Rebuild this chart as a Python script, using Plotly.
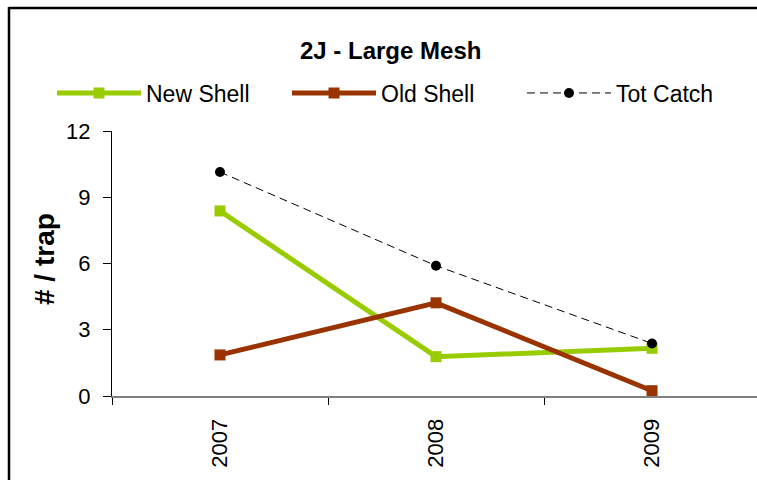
import plotly.graph_objects as go

years = ["2007", "2008", "2009"]
new_shell = [8.38, 1.78, 2.16]
old_shell = [1.86, 4.22, 0.24]
tot_catch = [10.14, 5.9, 2.38]
y_ticks = [0, 3, 6, 9, 12]

FONT = "Arial, Liberation Sans, sans-serif"
W, H = 757, 480
L, R, T, B = 112, 0, 131, 84

fig = go.Figure()
fig.add_trace(go.Scatter(x=years, y=new_shell, name="New Shell", mode="lines+markers",
                         line=dict(color="#99CC00", width=5),
                         marker=dict(symbol="square", size=11, color="#99CC00")))
fig.add_trace(go.Scatter(x=years, y=old_shell, name="Old Shell", mode="lines+markers",
                         line=dict(color="#993300", width=5),
                         marker=dict(symbol="square", size=11, color="#993300")))
fig.add_trace(go.Scatter(x=years, y=tot_catch, name="Tot Catch", mode="lines+markers",
                         line=dict(color="black", width=1, dash="8px,5px"),
                         marker=dict(symbol="circle", size=10, color="black")))

pw, ph = W - L - R, H - T - B
def px_x(p):
    return (p - L) / pw
def px_y(p):
    return (H - B - p) / ph

fig.update_layout(
    width=W, height=H,
    margin=dict(l=L, r=R, t=T, b=B),
    paper_bgcolor="white", plot_bgcolor="white",
    font=dict(family=FONT, size=22, color="black"),
    showlegend=True,
    legend=dict(orientation="h", x=px_x(52), y=px_y(93), xanchor="left", yanchor="middle",
                font=dict(size=23), itemwidth=84, entrywidth=136, entrywidthmode="pixels",
                bgcolor="rgba(0,0,0,0)", tracegroupgap=0),
    xaxis=dict(type="category", range=[-0.5, 2.486], tickson="boundaries",
               showline=True, linecolor="#808080", linewidth=2,
               ticks="outside", ticklen=7, tickcolor="black", tickwidth=1,
               tickangle=-90, ticklabelstandoff=12, showgrid=False, zeroline=False),
    yaxis=dict(range=[0, 12], tickvals=y_ticks, showline=True, linecolor="black",
               linewidth=1, ticks="outside", ticklen=8, tickcolor="black",
               showgrid=False, zeroline=False, ticklabelstandoff=8),
    annotations=[
        dict(text="<b>2J - Large Mesh</b>", xref="paper", yref="paper",
             x=px_x(390), y=px_y(50), xanchor="center", yanchor="middle",
             showarrow=False, font=dict(size=24)),
        dict(text="<b># / trap</b>", xref="paper", yref="paper", textangle=-90,
             x=px_x(44), y=px_y(259), xanchor="center", yanchor="middle",
             showarrow=False, font=dict(size=28)),
    ],
    shapes=[
        # white strip on the right edge, then the chart-area border
        dict(type="rect", xref="paper", yref="paper", x0=px_x(738), x1=px_x(W + 2),
             y0=px_y(394), y1=px_y(10), layer="above",
             fillcolor="white", line=dict(width=0)),
        dict(type="line", xref="paper", yref="paper", x0=px_x(9), x1=px_x(W),
             y0=px_y(8), y1=px_y(8), line=dict(color="black", width=2.5)),
        dict(type="line", xref="paper", yref="paper", x0=px_x(9), x1=px_x(9),
             y0=px_y(7), y1=px_y(H), line=dict(color="black", width=2.5)),
    ],
)

fig.write_html("out.html", config={"displayModeBar": False},
               post_script="document.documentElement.style.overflow='hidden';"
                           "document.body.style.margin='0';document.body.style.overflow='hidden';")
